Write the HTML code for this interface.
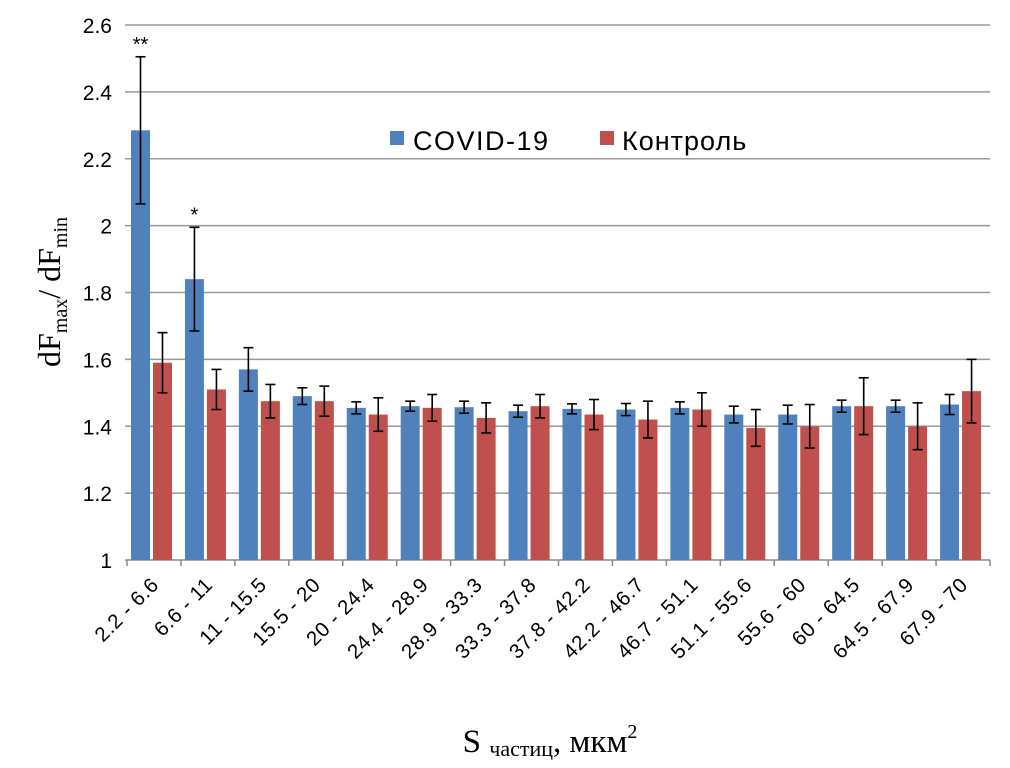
<!DOCTYPE html>
<html><head><meta charset="utf-8"><style>
body{margin:0;background:#fff;}
svg{display:block;font-family:"Liberation Sans",sans-serif;}
</style></head><body>
<svg id="chart" width="1010" height="768">
<g id="grid"></g><g id="bars"></g><g id="labels"></g>
<g>
<rect x="390" y="131" width="14" height="14" fill="#4f81bd"/>
<text x="413" y="150" font-size="27" letter-spacing="1.5" fill="#000">COVID-19</text>
<rect x="600" y="131" width="14" height="14" fill="#c0504d"/>
<text x="622" y="150" font-size="27" letter-spacing="1" fill="#000">Контроль</text>
</g>
<text transform="translate(60,292) rotate(-90)" text-anchor="middle" font-family="Liberation Serif, serif" font-size="32">dF<tspan font-size="20" dy="7">max</tspan><tspan dy="-7">/ dF</tspan><tspan font-size="20" dy="7">min</tspan></text>
<text x="550" y="752" text-anchor="middle" font-family="Liberation Serif, serif" font-size="33">S <tspan font-size="22" dy="4">частиц</tspan><tspan dy="-4">, мкм</tspan><tspan font-size="20" dy="-14">2</tspan></text>
</svg>
<script>
const categories=["2.2 - 6.6","6.6 - 11","11 - 15.5","15.5 - 20","20 - 24.4","24.4 - 28.9","28.9 - 33.3","33.3 - 37.8","37.8 - 42.2","42.2 - 46.7","46.7 - 51.1","51.1 - 55.6","55.6 - 60","60 - 64.5","64.5 - 67.9","67.9 - 70"];
const covid=[2.285,1.84,1.57,1.49,1.455,1.46,1.457,1.445,1.452,1.45,1.455,1.435,1.435,1.46,1.46,1.465];
const covidErr=[0.22,0.155,0.065,0.025,0.018,0.015,0.018,0.018,0.015,0.018,0.018,0.025,0.028,0.018,0.018,0.03];
const control=[1.59,1.51,1.475,1.475,1.435,1.455,1.425,1.46,1.435,1.42,1.45,1.395,1.40,1.46,1.40,1.505];
const controlErr=[0.09,0.06,0.05,0.045,0.05,0.04,0.045,0.035,0.045,0.055,0.05,0.055,0.065,0.085,0.07,0.095];
const significance=["**","*","","","","","","","","","","","","","",""];
const yTicks=[1,1.2,1.4,1.6,1.8,2,2.2,2.4,2.6];
const NS="http://www.w3.org/2000/svg";
const x0=127,x1=990,yTop=25,yBot=560;
const yS=v=>yBot-(v-1)/(1.6)*(yBot-yTop);
const cw=(x1-x0)/categories.length;
function mk(tag,attrs,parent){const e=document.createElementNS(NS,tag);for(const k in attrs)e.setAttribute(k,attrs[k]);parent.appendChild(e);return e;}
const grid=document.getElementById('grid'),bars=document.getElementById('bars'),labels=document.getElementById('labels');
yTicks.forEach(t=>{
 const l=mk('line',{x1:125,x2:x1,y1:yS(t),y2:yS(t),stroke:t===1?'#888':'#999','stroke-width':1.5},grid);
 
 
 const tx=mk('text',{x:112,y:yS(t)+8,'text-anchor':'end','font-size':21},labels);
 tx.textContent=String(t);
 
 
});
for(let i=0;i<=categories.length;i++){
 const tk=mk('line',{x1:x0+i*cw,x2:x0+i*cw,y1:yBot,y2:yBot+6,stroke:'#888','stroke-width':1.5},grid);
 
 
}
function errBar(cx,v,e){
 const g=mk('g',{stroke:'#000','stroke-width':1.6},bars);
 
 
 mk('line',{x1:cx,x2:cx,y1:yS(v+e),y2:yS(v-e)},g);
 mk('line',{x1:cx-5,x2:cx+5,y1:yS(v+e),y2:yS(v+e)},g);
 mk('line',{x1:cx-5,x2:cx+5,y1:yS(v-e),y2:yS(v-e)},g);
}
categories.forEach((c,i)=>{
 const cx=x0+i*cw;
 const b1=mk('rect',{x:cx+4,y:yS(covid[i]),width:19,height:yBot-yS(covid[i]),fill:'#4f81bd'},bars);
 
 
 const b2=mk('rect',{x:cx+26,y:yS(control[i]),width:19,height:yBot-yS(control[i]),fill:'#c0504d'},bars);
 
 
 errBar(cx+13.5,covid[i],covidErr[i]);
 errBar(cx+35.5,control[i],controlErr[i]);
 if(significance[i]){
  const s=mk('text',{x:cx+13.5,y:yS(covid[i]+covidErr[i])-6,'text-anchor':'middle','font-size':20},labels);
  s.textContent=significance[i];
  
  
 }
 const lx=cx+cw/2+6,ly=586;
 const t=mk('text',{x:lx,y:ly,'text-anchor':'end','font-size':20.5,'letter-spacing':0.6,transform:`rotate(-45 ${lx} ${ly})`},labels);
 t.textContent=c;
 
 
});
</script>
</body></html>
